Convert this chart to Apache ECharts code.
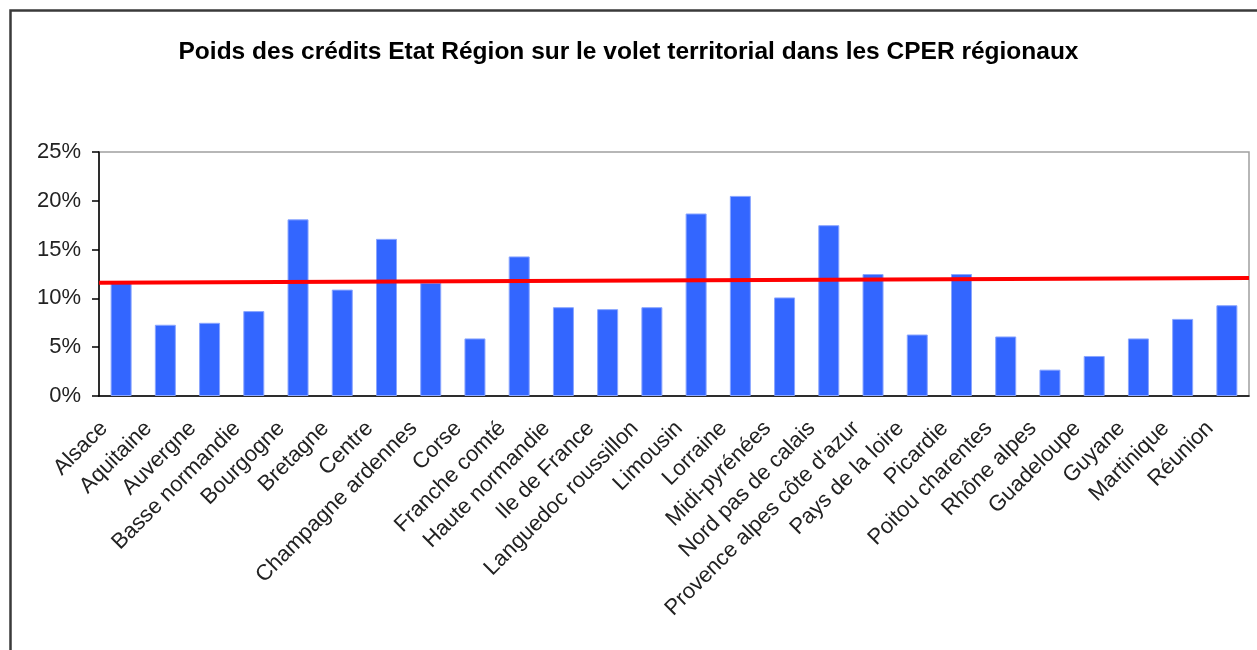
<!DOCTYPE html>
<html lang="fr">
<head>
    <meta charset="UTF-8">
    <title>Poids des crédits Etat Région</title>
    <script src="https://cdn.jsdelivr.net/npm/echarts@6/dist/echarts.min.js"></script>
</head>
<body style="margin:0">
<div id="barDiv" style="width:1257px;height:650px"></div>
<script>
    // régions (ordre du graphique)
    var regions = ['Alsace', 'Aquitaine', 'Auvergne', 'Basse normandie', 'Bourgogne', 'Bretagne', 'Centre',
        'Champagne ardennes', 'Corse', 'Franche comté', 'Haute normandie', 'Ile de France', 'Languedoc roussillon',
        'Limousin', 'Lorraine', 'Midi-pyrénées', 'Nord pas de calais', 'Provence alpes côte d\'azur',
        'Pays de la loire', 'Picardie', 'Poitou charentes', 'Rhône alpes', 'Guadeloupe', 'Guyane',
        'Martinique', 'Réunion'];
    // poids en %
    var poids = [11.6, 7.3, 7.5, 8.7, 18.1, 10.9, 16.1, 11.6, 5.9, 14.3, 9.1, 8.9, 9.1,
        18.7, 20.5, 10.1, 17.5, 12.5, 6.3, 12.5, 6.1, 2.7, 4.1, 5.9, 7.9, 9.3];
    // ligne rouge (début, fin)
    var ligneMoyenne = [11.6, 12.1];
    var yTicks = [0, 5, 10, 15, 20, 25];

    var mycharts = echarts.init(document.getElementById('barDiv'));

    var option = {
        animation: false,
        textStyle: {fontFamily: 'Arial, "Liberation Sans", sans-serif'},
        title: {
            text: 'Poids des crédits Etat Région sur le volet territorial dans les CPER régionaux',
            left: 'center',
            top: 35,
            textStyle: {fontSize: 24.5, fontWeight: 'bold', color: '#000'}
        },
        graphic: [{
            type: 'rect',
            left: 8, top: 8,
            shape: {width: 1400, height: 800},
            style: {fill: 'none', stroke: '#3a3a3a', lineWidth: 2.5}
        }],
        grid: {
            left: 99, top: 152, right: 8, bottom: 254,
            show: true,
            borderColor: '#a0a0a0',
            borderWidth: 1.5
        },
        xAxis: [{
            type: 'category',
            data: regions,
            axisLine: {lineStyle: {color: '#000', width: 1.5}},
            axisTick: {length: 6, interval: 0, lineStyle: {color: '#000', width: 1.5}},
            axisLabel: {interval: 0, rotate: 45, margin: 12, fontSize: 22, color: '#222', padding: [0, 24, 0, 0]}
        }, {
            type: 'value',
            min: 0, max: 1,
            show: false
        }],
        yAxis: {
            type: 'value',
            min: yTicks[0],
            max: yTicks[yTicks.length - 1],
            interval: 5,
            axisLine: {show: true, lineStyle: {color: '#000', width: 1.5}},
            axisTick: {show: true, length: 7, lineStyle: {color: '#000', width: 1.5}},
            axisLabel: {formatter: '{value}%', fontSize: 22, margin: 18, color: '#222'},
            splitLine: {show: false}
        },
        series: [{
            name: 'Poids',
            type: 'bar',
            data: poids,
            barWidth: 21,
            itemStyle: {color: '#3366ff', borderColor: '#8aa6ff', borderWidth: 1}
        }, {
            name: 'Moyenne',
            type: 'line',
            xAxisIndex: 1,
            data: [[0, ligneMoyenne[0]], [1, ligneMoyenne[1]]],
            symbol: 'none',
            z: 5,
            lineStyle: {color: '#ff0000', width: 4}
        }]
    };
    mycharts.setOption(option);
</script>
</body>
</html>
